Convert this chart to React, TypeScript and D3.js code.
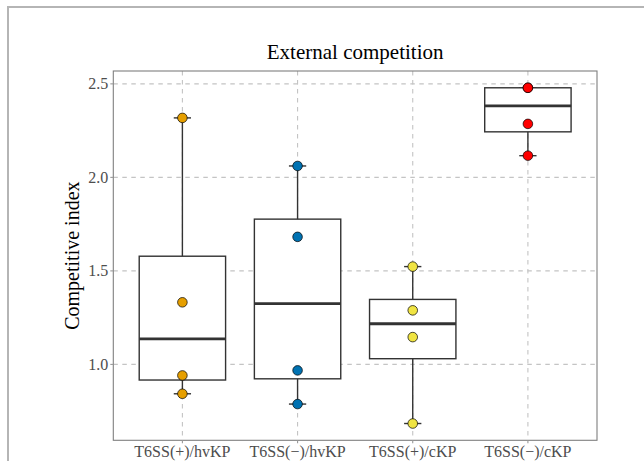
import React from "react";
import * as d3 from "d3";

const groups = ["T6SS(+)/hvKP", "T6SS(−)/hvKP", "T6SS(+)/cKP", "T6SS(−)/cKP"];
const hvPlus = [2.318, 1.332, 0.941, 0.843];
const hvMinus = [2.061, 1.682, 0.968, 0.788];
const cPlus = [1.523, 1.289, 1.146, 0.684];
const cMinus = [2.479, 2.479, 2.286, 2.116];
const seriesValues = [hvPlus, hvMinus, cPlus, cMinus];
const groupColors = ["#E69F00", "#0072B2", "#F0E442", "#FF0000"];
const yTicks = [1.0, 1.5, 2.0, 2.5];
const titleText = "External competition";
const yLabel = "Competitive index";

const W = 644, H = 461;
const panel = { left: 113.3, right: 597, top: 71, bottom: 440.3 };
const font = "'Liberation Serif', 'Times New Roman', serif";

export default function App() {
  const all = seriesValues.flat();
  const mn = d3.min(all)!, mx = d3.max(all)!;
  const r = mx - mn;
  const y = d3.scaleLinear().domain([mn - 0.05 * r, mx + 0.05 * r]).range([panel.bottom, panel.top]);
  const x = d3.scaleBand<string>().domain(groups).range([panel.left, panel.right]).paddingInner(0).paddingOuter(0.1);
  const step = x.step();
  const cx = (g: string) => x(g)! + x.bandwidth() / 2;
  const boxW = 0.75 * step;
  const capW = 0.15 * step;

  const stats = seriesValues.map((vals) => {
    const s = [...vals].sort(d3.ascending);
    const q1 = d3.quantileSorted(s, 0.25)!;
    const med = d3.quantileSorted(s, 0.5)!;
    const q3 = d3.quantileSorted(s, 0.75)!;
    const iqr = q3 - q1;
    const lo = d3.min(s.filter((v) => v >= q1 - 1.5 * iqr))!;
    const hi = d3.max(s.filter((v) => v <= q3 + 1.5 * iqr))!;
    return { q1, med, q3, lo, hi };
  });

  const boxStroke = "#333333";
  const sw = 1.4;

  return (
    <svg width={W} height={H} style={{ position: "absolute", left: 0, top: 0 }}>
      <rect x={0} y={0} width={W} height={H} fill="#ffffff" />
      <rect x={8} y={7} width={W + 50} height={H + 50} fill="none" stroke="#b5b5b5" strokeWidth={2} />
      {yTicks.map((t) => (
        <line key={"gy" + t} x1={panel.left} x2={panel.right} y1={y(t)} y2={y(t)} stroke="#c4c4c4" strokeWidth={1.1} strokeDasharray="4.5,4.5" />
      ))}
      {groups.map((g) => (
        <line key={"gx" + g} x1={cx(g)} x2={cx(g)} y1={panel.top} y2={panel.bottom} stroke="#c4c4c4" strokeWidth={1.1} strokeDasharray="4.5,4.5" />
      ))}
      {groups.map((g, i) => {
        const s = stats[i];
        const c = cx(g);
        return (
          <g key={"b" + g}>
            <line x1={c} x2={c} y1={y(s.lo)} y2={y(s.hi)} stroke={boxStroke} strokeWidth={sw} />
            <line x1={c - capW / 2} x2={c + capW / 2} y1={y(s.lo)} y2={y(s.lo)} stroke={boxStroke} strokeWidth={sw} />
            <line x1={c - capW / 2} x2={c + capW / 2} y1={y(s.hi)} y2={y(s.hi)} stroke={boxStroke} strokeWidth={sw} />
            <rect x={c - boxW / 2} y={y(s.q3)} width={boxW} height={y(s.q1) - y(s.q3)} fill="#ffffff" stroke={boxStroke} strokeWidth={sw} />
            <line x1={c - boxW / 2} x2={c + boxW / 2} y1={y(s.med)} y2={y(s.med)} stroke={boxStroke} strokeWidth={2.8} />
          </g>
        );
      })}
      {groups.map((g, i) =>
        seriesValues[i].map((v, j) => (
          <circle key={"p" + i + "-" + j} cx={cx(g)} cy={y(v)} r={4.8} fill={groupColors[i]} stroke="#000000" strokeWidth={0.7} />
        ))
      )}
      <rect x={panel.left} y={panel.top} width={panel.right - panel.left} height={panel.bottom - panel.top} fill="none" stroke="#7f7f7f" strokeWidth={1.1} />
      {yTicks.map((t) => (
        <g key={"ty" + t}>
          <line x1={panel.left - 3} x2={panel.left} y1={y(t)} y2={y(t)} stroke="#999999" strokeWidth={1.1} />
          <text x={panel.left - 5} y={y(t)} dy="0.35em" textAnchor="end" fontFamily={font} fontSize={16} fill="#4d4d4d">
            {d3.format(".1f")(t)}
          </text>
        </g>
      ))}
      {groups.map((g) => (
        <g key={"tx" + g}>
          <line x1={cx(g)} x2={cx(g)} y1={panel.bottom} y2={panel.bottom + 3} stroke="#999999" strokeWidth={1.1} />
          <text x={cx(g)} y={panel.bottom + 17} textAnchor="middle" fontFamily={font} fontSize={16} fill="#4d4d4d">
            {g}
          </text>
        </g>
      ))}
      <text x={(panel.left + panel.right) / 2} y={59} textAnchor="middle" fontFamily={font} fontSize={21} fill="#000000">
        {titleText}
      </text>
      <text transform={`translate(79, ${(panel.top + panel.bottom) / 2}) rotate(-90)`} textAnchor="middle" fontFamily={font} fontSize={20} fill="#000000">
        {yLabel}
      </text>
    </svg>
  );
}
